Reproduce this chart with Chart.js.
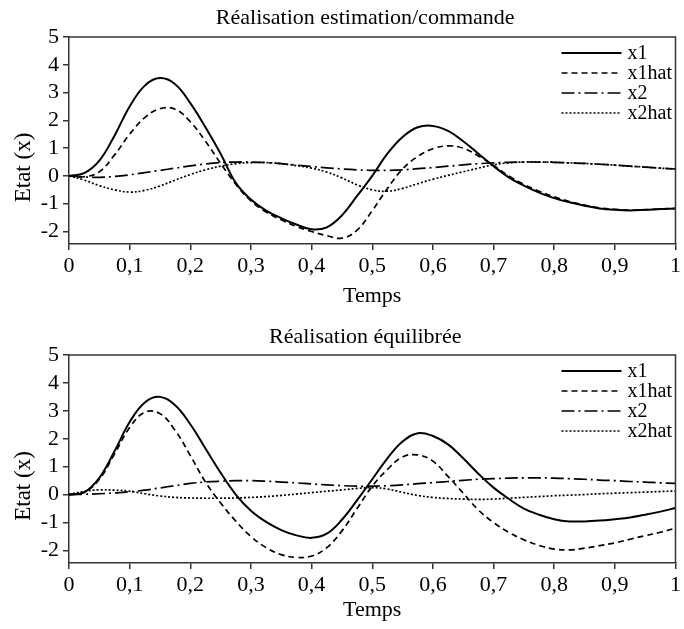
<!DOCTYPE html>
<html>
<head>
<meta charset="utf-8">
<script src="https://cdn.jsdelivr.net/npm/chart.js@4.4.0/dist/chart.umd.min.js"></script>
<style>
  body { margin: 0; background: #fff; }
  canvas { display: block; }
</style>
</head>
<body>
<canvas id="top" width="684" height="316"></canvas>
<canvas id="bottom" width="684" height="313"></canvas>
<script>
// time axis (s), one sample every 0.025
const temps = [0, 0.025, 0.05, 0.075, 0.1, 0.125, 0.15, 0.175, 0.2, 0.225,
  0.25, 0.275, 0.3, 0.325, 0.35, 0.375, 0.4, 0.425, 0.45, 0.475,
  0.5, 0.525, 0.55, 0.575, 0.6, 0.625, 0.65, 0.675, 0.7, 0.725,
  0.75, 0.775, 0.8, 0.825, 0.85, 0.875, 0.9, 0.925, 0.95, 0.975, 1];

const seriesNames = ["x1", "x1hat", "x2", "x2hat"];
const xTicks = [0, 0.1, 0.2, 0.3, 0.4, 0.5, 0.6, 0.7, 0.8, 0.9, 1];
const yTicks = [-2, -1, 0, 1, 2, 3, 4, 5];

// Réalisation estimation/commande
const estX1 = [0, 0.1, 0.55, 1.45, 2.5, 3.25, 3.52, 3.3, 2.62, 1.75,
  0.8, -0.25, -0.85, -1.25, -1.52, -1.75, -1.92, -1.85, -1.42, -0.72,
  0.0, 0.8, 1.4, 1.75, 1.8, 1.62, 1.25, 0.8, 0.35, -0.05,
  -0.35, -0.6, -0.8, -0.95, -1.07, -1.17, -1.22, -1.24, -1.22, -1.19, -1.17];
const estX1hat = [0, -0.03, 0.15, 0.75, 1.5, 2.1, 2.42, 2.4, 1.95, 1.25,
  0.45, -0.3, -0.9, -1.3, -1.58, -1.82, -2.0, -2.15, -2.24, -1.95,
  -1.25, -0.45, 0.25, 0.7, 0.98, 1.08, 1.0, 0.72, 0.38, 0.0,
  -0.3, -0.55, -0.75, -0.92, -1.05, -1.15, -1.2, -1.23, -1.22, -1.19, -1.17];
const estX2 = [0, -0.04, -0.05, -0.02, 0.04, 0.12, 0.2, 0.28, 0.36, 0.43,
  0.48, 0.5, 0.5, 0.48, 0.44, 0.39, 0.34, 0.29, 0.25, 0.22,
  0.2, 0.2, 0.22, 0.26, 0.3, 0.35, 0.4, 0.44, 0.47, 0.49,
  0.5, 0.5, 0.49, 0.47, 0.45, 0.42, 0.39, 0.35, 0.32, 0.28, 0.25];
const estX2hat = [0, -0.15, -0.35, -0.5, -0.58, -0.52, -0.36, -0.15, 0.05, 0.22,
  0.35, 0.44, 0.48, 0.48, 0.44, 0.37, 0.28, 0.14, -0.07, -0.32,
  -0.5, -0.55, -0.45, -0.28, -0.12, 0.02, 0.15, 0.28, 0.4, 0.47,
  0.5, 0.5, 0.49, 0.47, 0.45, 0.42, 0.39, 0.35, 0.32, 0.28, 0.25];

// Réalisation équilibrée
const eqX1 = [0, 0.08, 0.6, 1.55, 2.6, 3.3, 3.5, 3.2, 2.52, 1.65,
  0.78, 0.0, -0.58, -0.98, -1.27, -1.46, -1.55, -1.4, -0.9, -0.2,
  0.55, 1.3, 1.9, 2.2, 2.1, 1.8, 1.3, 0.75, 0.25, -0.15,
  -0.5, -0.72, -0.88, -0.96, -0.96, -0.93, -0.88, -0.82, -0.72, -0.61, -0.48];
const eqX1hat = [0, 0.08, 0.55, 1.45, 2.4, 2.95, 2.9, 2.3, 1.4, 0.45,
  -0.3, -0.95, -1.5, -1.9, -2.15, -2.25, -2.2, -1.9, -1.3, -0.5,
  0.3, 0.9, 1.35, 1.42, 1.2, 0.65, 0.05, -0.55, -1.0, -1.35,
  -1.62, -1.82, -1.95, -1.98, -1.92, -1.83, -1.73, -1.6, -1.47, -1.35, -1.2];
const eqX2 = [0, 0.01, 0.03, 0.06, 0.1, 0.16, 0.24, 0.32, 0.4, 0.45,
  0.48, 0.5, 0.5, 0.48, 0.45, 0.42, 0.38, 0.35, 0.32, 0.3,
  0.3, 0.32, 0.35, 0.39, 0.43, 0.47, 0.51, 0.55, 0.57, 0.59,
  0.6, 0.6, 0.59, 0.57, 0.55, 0.52, 0.5, 0.47, 0.45, 0.42, 0.4];
const eqX2hat = [0, 0.12, 0.17, 0.16, 0.12, 0.03, -0.05, -0.1, -0.12, -0.13,
  -0.13, -0.12, -0.1, -0.07, -0.03, 0.02, 0.07, 0.12, 0.17, 0.22,
  0.25, 0.2, 0.08, -0.03, -0.1, -0.14, -0.16, -0.17, -0.16, -0.13,
  -0.1, -0.07, -0.04, -0.02, 0.0, 0.03, 0.05, 0.07, 0.09, 0.11, 0.13];

const serif = "'Liberation Serif', 'DejaVu Serif', serif";
const styles = [
  { width: 2, dash: [] },
  { width: 1.7, dash: [6, 4] },
  { width: 1.7, dash: [13, 4, 2, 4] },
  { width: 1.7, dash: [2, 2] }
];

// frame, titles and legend drawn around the plot area
const frameLegend = {
  id: "frameLegend",
  afterDatasetsDraw(chart, args, opts) {
    const c = chart.ctx;
    const a = chart.chartArea;
    c.save();
    c.strokeStyle = "#333";
    c.lineWidth = 1.5;
    c.beginPath();
    c.moveTo(a.left, a.top);
    c.lineTo(a.right, a.top);
    c.lineTo(a.right, a.bottom);
    c.stroke();

    c.fillStyle = "#000";
    c.textBaseline = "middle";
    c.textAlign = "center";
    c.font = "22px " + serif;
    c.fillText(opts.title, (a.left + a.right) / 2 - 7, opts.titleY);

    c.save();
    c.translate(24, (a.top + a.bottom) / 2 + 27);
    c.rotate(-Math.PI / 2);
    c.font = "23px " + serif;
    c.fillText("Etat (x)", 0, 0);
    c.restore();

    c.textAlign = "left";
    c.font = "20px " + serif;
    chart.data.datasets.forEach((ds, i) => {
      const y = a.top + 16 + i * 20;
      c.strokeStyle = "#000";
      c.lineWidth = ds.borderWidth;
      c.setLineDash(ds.borderDash);
      c.beginPath();
      c.moveTo(a.right - 114, y);
      c.lineTo(a.right - 54, y);
      c.stroke();
      c.setLineDash([]);
      c.fillText(ds.label, a.right - 48, y + 1);
    });
    c.restore();
  }
};

function makeChart(id, title, series, cfg) {
  const datasets = series.map((vals, i) => ({
    label: seriesNames[i],
    data: temps.map((t, k) => ({ x: t, y: vals[k] })),
    borderColor: "#000",
    borderWidth: styles[i].width,
    borderDash: styles[i].dash,
    pointRadius: 0,
    fill: false,
    tension: 0.4
  }));

  return new Chart(document.getElementById(id), {
    type: "line",
    data: { datasets },
    options: {
      responsive: false,
      animation: false,
      layout: { padding: { left: 0, right: 8, top: cfg.top, bottom: 0 } },
      plugins: {
        legend: { display: false },
        tooltip: { enabled: false },
        title: { display: false },
        frameLegend: { title: title, titleY: cfg.titleY }
      },
      scales: {
        x: {
          type: "linear",
          min: 0,
          max: 1,
          afterBuildTicks: s => { s.ticks = xTicks.map(v => ({ value: v })); },
          afterFit: s => { s.height = cfg.xHeight; },
          ticks: {
            color: "#000",
            font: { family: serif, size: 22 },
            padding: 3,
            maxRotation: 0,
            callback: v => String(Math.round(v * 10) / 10).replace(".", ",")
          },
          grid: { drawOnChartArea: false, tickLength: 6, color: "#333", lineWidth: 1.5 },
          border: { color: "#333", width: 1.5 },
          title: {
            display: true,
            text: "Temps",
            color: "#000",
            font: { family: serif, size: 22 },
            padding: { top: 0, bottom: cfg.xTitlePad }
          }
        },
        y: {
          min: -2.45,
          max: 5,
          afterBuildTicks: s => { s.ticks = yTicks.map(v => ({ value: v })); },
          afterFit: s => { s.width = 69; },
          ticks: {
            color: "#000",
            font: { family: serif, size: 22 },
            padding: 4
          },
          grid: { drawOnChartArea: false, tickLength: 6, color: "#333", lineWidth: 1.5 },
          border: { color: "#333", width: 1.5 }
        }
      }
    },
    plugins: [frameLegend]
  });
}

makeChart("top", "Réalisation estimation/commande",
  [estX1, estX1hat, estX2, estX2hat],
  { top: 37, titleY: 18, xHeight: 72, xTitlePad: 7 });
makeChart("bottom", "Réalisation équilibrée",
  [eqX1, eqX1hat, eqX2, eqX2hat],
  { top: 39, titleY: 21, xHeight: 66, xTitlePad: 6 });
</script>
</body>
</html>
